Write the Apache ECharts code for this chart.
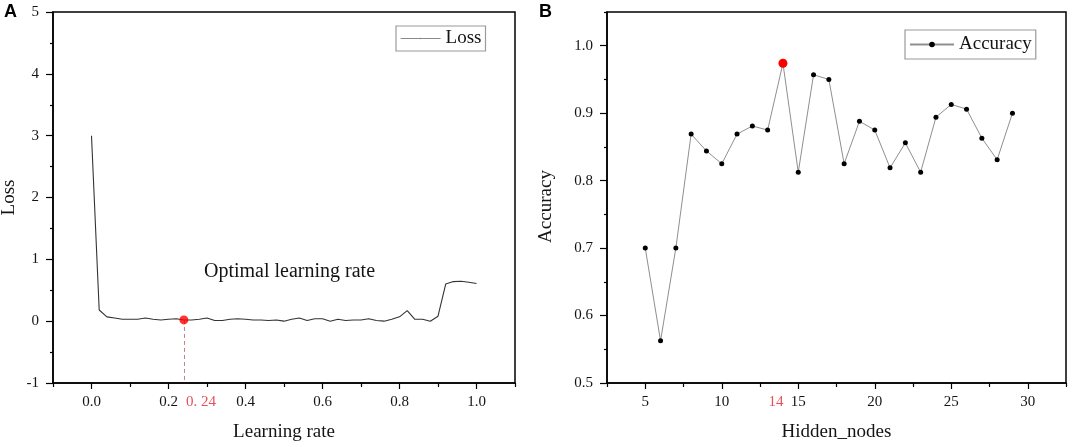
<!DOCTYPE html>
<html><head><meta charset="utf-8">
<script src="https://cdn.jsdelivr.net/npm/echarts@6/dist/echarts.min.js"></script>
<style>html,body{margin:0;padding:0;background:#fff}#c{width:1072px;height:447px}</style>
</head><body><div id="c"></div>
<script>
// ---------- Panel A data ----------
const learningRate = [0.00,0.02,0.04,0.06,0.08,0.10,0.12,0.14,0.16,0.18,0.20,0.22,0.24,0.26,0.28,0.30,0.32,0.34,0.36,0.38,0.40,0.42,0.44,0.46,0.48,0.50,0.52,0.54,0.56,0.58,0.60,0.62,0.64,0.66,0.68,0.70,0.72,0.74,0.76,0.78,0.80,0.82,0.84,0.86,0.88,0.90,0.92,0.94,0.96,0.98,1.00];
const loss = [3.00,0.18,0.07,0.05,0.03,0.03,0.03,0.05,0.03,0.02,0.03,0.04,0.02,0.02,0.03,0.05,0.01,0.01,0.03,0.04,0.03,0.02,0.02,0.01,0.02,0.00,0.03,0.05,0.01,0.04,0.04,0.00,0.03,0.01,0.02,0.02,0.04,0.01,0.00,0.03,0.07,0.17,0.03,0.03,0.00,0.08,0.60,0.64,0.645,0.63,0.61];
const optimalIndex = 12; // learning rate 0.24
const optimalLabel = '0. 24';
const lossXLabels = [0.0,0.2,0.4,0.6,0.8,1.0];
const lossXMinor = [-0.1,0.1,0.3,0.5,0.7,0.9,1.1];
const lossYLabels = [-1,0,1,2,3,4,5];
const lossYMinor = [-0.5,0.5,1.5,2.5,3.5,4.5];

// ---------- Panel B data ----------
const hiddenNodes = [5,6,7,8,9,10,11,12,13,14,15,16,17,18,19,20,21,22,23,24,25,26,27,28,29];
const accuracy = [0.700,0.5625,0.700,0.869,0.844,0.825,0.869,0.881,0.875,0.974,0.8125,0.957,0.950,0.825,0.888,0.875,0.819,0.856,0.8125,0.894,0.913,0.906,0.863,0.831,0.900];
const bestIndex = 9; // 14 hidden nodes
const bestLabel = '14';
const nodesXLabels = [5,10,15,20,25,30];
const nodesXMinor = [2.5,7.5,12.5,17.5,22.5,27.5,32.5];
const accYLabels = [0.5,0.6,0.7,0.8,0.9,1.0];
const accYMinor = [0.55,0.65,0.75,0.85,0.95,1.05];

const SERIF = 'Liberation Serif';
const TXT = '#141414';
const AX = '#000';

function mainAxis(opts){
  return Object.assign({
    type:'value', nameLocation:'middle',
    nameTextStyle:{fontFamily:SERIF,fontSize:19,color:TXT},
    axisLine:{show:true,onZero:false,lineStyle:{color:AX,width:1.5}},
    splitLine:{show:false}
  }, opts);
}
function minorAxis(opts, ticks, len){
  return Object.assign({
    type:'value',
    axisLine:{show:false,onZero:false},
    axisTick:{show:true,length:len,customValues:ticks,lineStyle:{color:AX,width:1.2}},
    axisLabel:{show:false},
    splitLine:{show:false}
  }, opts);
}

const chart = echarts.init(document.getElementById('c'), null, {renderer:'canvas'});

const option = {
  animation:false,
  backgroundColor:'#fff',
  grid:[
    {left:53,top:12,right:557,bottom:64,show:true,borderColor:AX,borderWidth:1.5,containLabel:false,outerBoundsMode:'none'},
    {left:607,top:12,right:6,bottom:64,show:true,borderColor:AX,borderWidth:1.5,containLabel:false,outerBoundsMode:'none'}
  ],
  xAxis:[
    mainAxis({gridIndex:0,position:'bottom',min:-0.1,max:1.1,name:'Learning rate',nameGap:40,
      axisTick:{show:true,length:6,customValues:lossXLabels,lineStyle:{color:AX,width:1.2}},
      axisLabel:{fontFamily:SERIF,fontSize:15,color:TXT,margin:12,customValues:lossXLabels,formatter:v=>Number(v).toFixed(1)}}),
    minorAxis({gridIndex:0,position:'bottom',min:-0.1,max:1.1}, lossXMinor, 4),
    mainAxis({gridIndex:1,position:'bottom',min:2.5,max:32.5,name:'Hidden_nodes',nameGap:40,
      axisTick:{show:true,length:6,customValues:nodesXLabels,lineStyle:{color:AX,width:1.2}},
      axisLabel:{fontFamily:SERIF,fontSize:15,color:TXT,margin:12,customValues:nodesXLabels,formatter:v=>String(v)}}),
    minorAxis({gridIndex:1,position:'bottom',min:2.5,max:32.5}, nodesXMinor, 4)
  ],
  yAxis:[
    mainAxis({gridIndex:0,position:'left',min:-1,max:5,name:'Loss',nameGap:34,
      axisTick:{show:true,length:7,customValues:lossYLabels,lineStyle:{color:AX,width:1.2}},
      axisLabel:{fontFamily:SERIF,fontSize:15,color:TXT,margin:14,customValues:lossYLabels,formatter:v=>String(v)}}),
    minorAxis({gridIndex:0,position:'left',min:-1,max:5}, lossYMinor, 3),
    mainAxis({gridIndex:1,position:'left',min:0.5,max:1.05,name:'Accuracy',nameGap:51,
      nameTextStyle:{fontFamily:SERIF,fontSize:19,color:TXT,padding:[0,18,0,0]},
      axisTick:{show:true,length:7,customValues:accYLabels,lineStyle:{color:AX,width:1.2}},
      axisLabel:{fontFamily:SERIF,fontSize:15,color:TXT,margin:14,customValues:accYLabels,formatter:v=>Number(v).toFixed(1)}}),
    minorAxis({gridIndex:1,position:'left',min:0.5,max:1.05}, accYMinor, 3)
  ],
  legend:[
    {id:'legendA',show:true,left:396,top:26,itemWidth:40,itemHeight:2,padding:[3,4,3,4],
     borderColor:'#9a9a9a',borderWidth:1.2,
     textStyle:{fontFamily:SERIF,fontSize:19,color:TXT},
     itemStyle:{color:'#8a8a8a',borderWidth:0},
     lineStyle:{color:'#8a8a8a',width:1.2},
     data:['Loss']},
    {id:'legendB',show:true,left:905,top:30,itemWidth:44,itemHeight:7,padding:[5,4,5,4],
     borderColor:'#9a9a9a',borderWidth:1.2,
     textStyle:{fontFamily:SERIF,fontSize:19,color:TXT},
     data:['Accuracy']}
  ],
  series:[
    {name:'Loss',type:'line',xAxisIndex:0,yAxisIndex:0,
     data:learningRate.map((x,i)=>[x,loss[i]]),
     symbol:'none',lineStyle:{color:'#333',width:1.1},itemStyle:{color:'#333'},z:3},
    {name:'Optimal',type:'scatter',xAxisIndex:0,yAxisIndex:0,
     data:[[learningRate[optimalIndex],loss[optimalIndex]]],
     symbol:'circle',symbolSize:9,itemStyle:{color:'#ff0000'},z:5,
     markLine:{silent:true,symbol:'none',label:{show:false},
       lineStyle:{color:'#c98088',type:[4,3],width:1},
       data:[[{coord:[learningRate[optimalIndex],loss[optimalIndex]]},{coord:[learningRate[optimalIndex],lossYLabels[0]]}]]}},
    {name:'Accuracy',type:'line',xAxisIndex:2,yAxisIndex:2,
     data:hiddenNodes.map((x,i)=> i===bestIndex
        ? {value:[x,accuracy[i]],symbolSize:9,itemStyle:{color:'#ff0000'}}
        : [x,accuracy[i]]),
     symbol:'circle',symbolSize:5,showSymbol:true,
     lineStyle:{color:'#8f8f8f',width:1},itemStyle:{color:'#000'},z:3}
  ]
};
chart.setOption(option);

const px = chart.convertToPixel({xAxisIndex:0}, learningRate[optimalIndex]);
const pxB = chart.convertToPixel({xAxisIndex:2}, hiddenNodes[bestIndex]);
const axisBottomA = chart.convertToPixel({yAxisIndex:0}, lossYLabels[0]);
const axisBottomB = chart.convertToPixel({yAxisIndex:2}, accYLabels[0]);

chart.setOption({
  graphic:[
    {type:'text',left:4,top:3,style:{text:'A',font:'bold 18px "Liberation Sans"',fill:'#000'}},
    {type:'text',left:539,top:3,style:{text:'B',font:'bold 18px "Liberation Sans"',fill:'#000'}},
    {type:'text',x:204,y:262,style:{text:'Optimal learning rate',font:'20px "Liberation Serif"',fill:TXT,textVerticalAlign:'top'}},
    {type:'text',x:px+17,y:axisBottomA+12,style:{text:optimalLabel,font:'15px "Liberation Serif"',fill:'#e5505a',textAlign:'center',textVerticalAlign:'top'}},
    {type:'text',x:pxB-7,y:axisBottomB+12,style:{text:bestLabel,font:'15px "Liberation Serif"',fill:'#e5505a',textAlign:'center',textVerticalAlign:'top'}}
  ]
});
</script></body></html>
